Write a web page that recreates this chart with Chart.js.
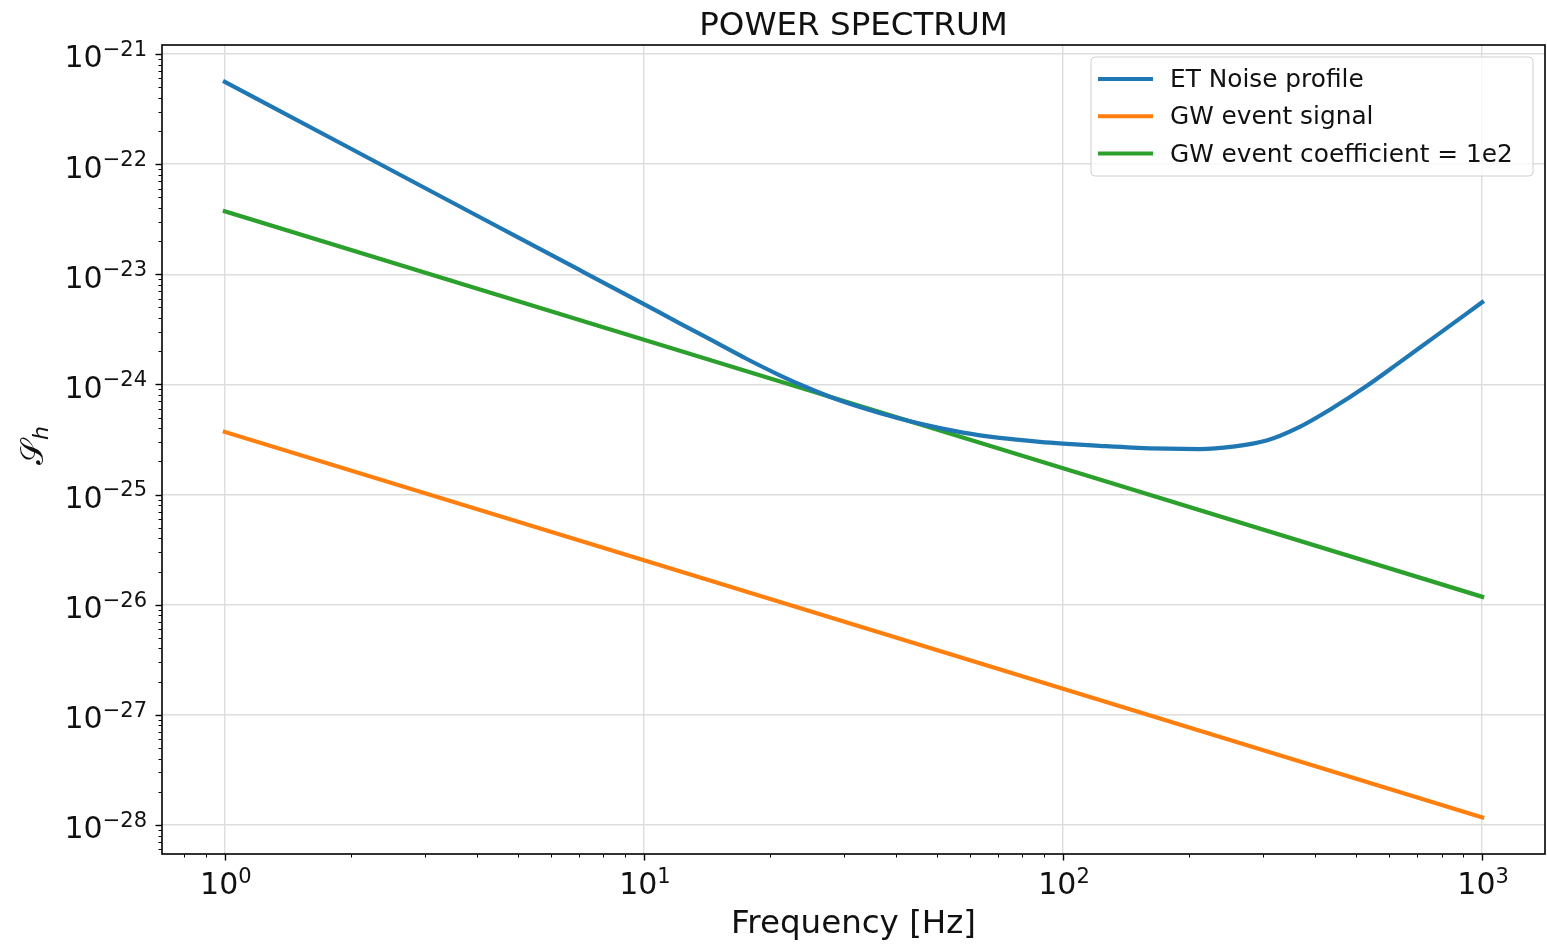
<!DOCTYPE html>
<html>
<head>
<meta charset="utf-8">
<title>Power Spectrum</title>
<script src="https://cdn.jsdelivr.net/npm/chart.js@4.4.1/dist/chart.umd.min.js"></script>
<style>
    html, body { margin: 0; padding: 0; background: #ffffff; }
    #wrap { width: 1547px; height: 947px; }
</style>
</head>
<body>
<div id="wrap"><canvas id="spectrumChart" width="1547" height="947"></canvas></div>
<script>
// values (frequency in Hz, S_h)
const noiseFreq = [1, 2, 4, 7, 10, 12.17, 14.62, 17.56, 21.09, 24.42, 27.75, 33.32, 40.03, 48.07, 57.7,
    70.6, 87.95, 100, 122.3, 146.6, 176.6, 211.8, 253.9, 306, 360.8, 439.7, 530, 635.3, 761.6, 918, 1000];
const noiseValues = [5.6e-22, 1.38e-22, 3.4e-23, 1.1e-23, 5.35e-24, 3.59e-24, 2.48e-24, 1.71e-24, 1.21e-24,
    9.42e-25, 7.74e-25, 6.11e-25, 4.99e-25, 4.2e-25, 3.65e-25,
    3.27e-25, 3.01e-25, 2.9e-25, 2.77e-25, 2.67e-25, 2.61e-25, 2.59e-25, 2.72e-25, 3.09e-25, 3.98e-25,
    6.1e-25, 9.66e-25, 1.585e-24, 2.62e-24, 4.39e-24, 5.57e-24];
const eventFreq = [1, 10, 100, 1000];
const signalValues = [3.70e-25, 2.53e-26, 1.72e-27, 1.17e-28];
const coeffValues = [3.73e-23, 2.54e-24, 1.73e-25, 1.18e-26];

const seriesLabels = ['ET Noise profile', 'GW event signal', 'GW event coefficient = 1e2'];
const seriesColors = ['#1f77b4', '#ff7f0e', '#2ca02c'];

// tick labels are powers of ten: 10^e
const xTickExponents = [0, 1, 2, 3];
const yTickExponents = [-28, -27, -26, -25, -24, -23, -22, -21];

const FONT = '"DejaVu Sans", "Noto Sans", sans-serif';
const MINUS = '\u2212';

function toPoints(xs, ys) {
    return xs.map((x, i) => ({ x: x, y: ys[i] }));
}

function isDecade(v) {
    const l = Math.log10(v);
    return Math.abs(l - Math.round(l)) < 1e-6;
}

// major + minor ticks (1..9 x 10^e) inside the axis range
function logTicks(scale) {
    const ticks = [];
    const lo = Math.floor(Math.log10(scale.min));
    const hi = Math.ceil(Math.log10(scale.max));
    for (let e = lo; e <= hi; e++) {
        for (let m = 1; m <= 9; m++) {
            const v = m * Math.pow(10, e);
            if (v >= scale.min * 0.9999 && v <= scale.max * 1.0001) {
                ticks.push({ value: v, major: m === 1 });
            }
        }
    }
    scale.ticks = ticks;
}

function drawPower(ctx, exp, anchorX, baseY, align) {
    const main = '10';
    const sup = exp < 0 ? MINUS + String(-exp) : String(exp);
    ctx.font = '30px ' + FONT;
    const mw = ctx.measureText(main).width;
    ctx.font = '21px ' + FONT;
    const sw = ctx.measureText(sup).width;
    const total = mw + sw;
    let left = anchorX - total / 2;
    if (align === 'right') left = anchorX - total;
    ctx.textAlign = 'left';
    ctx.textBaseline = 'alphabetic';
    ctx.font = '30px ' + FONT;
    ctx.fillText(main, left, baseY);
    ctx.font = '21px ' + FONT;
    ctx.fillText(sup, left + mw, baseY - 11.5);
}

const axesDecor = {
    id: 'axesDecor',
    afterDraw(chart) {
        const ctx = chart.ctx;
        const a = chart.chartArea;
        const xs = chart.scales.x;
        const ys = chart.scales.y;
        ctx.save();
        ctx.strokeStyle = '#000000';
        ctx.fillStyle = '#000000';

        // tick marks
        xs.ticks.forEach(t => {
            const px = Math.round(xs.getPixelForValue(t.value)) + 0.5;
            const major = isDecade(t.value);
            ctx.lineWidth = major ? 1.4 : 1.0;
            ctx.beginPath();
            ctx.moveTo(px, a.bottom);
            ctx.lineTo(px, a.bottom + (major ? 6.5 : 3.5));
            ctx.stroke();
        });
        ys.ticks.forEach(t => {
            const py = Math.round(ys.getPixelForValue(t.value)) + 0.5;
            const major = isDecade(t.value);
            ctx.lineWidth = major ? 1.4 : 1.0;
            ctx.beginPath();
            ctx.moveTo(a.left, py);
            ctx.lineTo(a.left - (major ? 6.5 : 3.5), py);
            ctx.stroke();
        });

        // frame
        ctx.lineWidth = 1.6;
        ctx.strokeRect(a.left, a.top, a.right - a.left, a.bottom - a.top);

        // tick labels
        ctx.fillStyle = '#111111';
        xTickExponents.forEach(e => {
            const px = xs.getPixelForValue(Math.pow(10, e));
            drawPower(ctx, e, px + 1, a.bottom + 40, 'center');
        });
        yTickExponents.forEach(e => {
            const py = ys.getPixelForValue(Math.pow(10, e));
            drawPower(ctx, e, a.left - 15, py + 13.4, 'right');
        });

        // title and axis labels
        const cx = (a.left + a.right) / 2;
        ctx.textAlign = 'center';
        ctx.textBaseline = 'alphabetic';
        ctx.font = '32.5px ' + FONT;
        ctx.fillText('POWER SPECTRUM', cx, 35);
        ctx.fillText('Frequency [Hz]', cx, 933);

        const cy = (a.top + a.bottom) / 2;
        ctx.save();
        ctx.translate(43, cy - 4);
        ctx.rotate(-Math.PI / 2);
        ctx.font = '32px ' + FONT;
        const sW = ctx.measureText('\u{1D4AE}').width;
        ctx.font = 'italic 22px ' + FONT;
        const hW = ctx.measureText('h').width;
        const start = -(sW + hW) / 2;
        ctx.textAlign = 'left';
        ctx.font = '32px ' + FONT;
        ctx.fillText('\u{1D4AE}', start, 0);
        ctx.font = 'italic 22px ' + FONT;
        ctx.fillText('h', start + sW, 5);
        ctx.restore();

        // legend box in the upper right of the axes
        const lx = a.right - 12 - 442;
        const ly = a.top + 12;
        const lw = 442, lh = 119, r = 4;
        ctx.beginPath();
        ctx.moveTo(lx + r, ly);
        ctx.arcTo(lx + lw, ly, lx + lw, ly + lh, r);
        ctx.arcTo(lx + lw, ly + lh, lx, ly + lh, r);
        ctx.arcTo(lx, ly + lh, lx, ly, r);
        ctx.arcTo(lx, ly, lx + lw, ly, r);
        ctx.closePath();
        ctx.fillStyle = 'rgba(255,255,255,0.8)';
        ctx.fill();
        ctx.lineWidth = 1;
        ctx.strokeStyle = '#d0d0d0';
        ctx.stroke();

        chart.data.datasets.forEach((ds, i) => {
            const rowY = ly + 22 + i * 37.3;
            ctx.strokeStyle = ds.borderColor;
            ctx.lineWidth = 4;
            ctx.lineCap = 'butt';
            ctx.beginPath();
            ctx.moveTo(lx + 7, rowY);
            ctx.lineTo(lx + 62, rowY);
            ctx.stroke();
            ctx.fillStyle = '#111111';
            ctx.font = '24.8px ' + FONT;
            ctx.textAlign = 'left';
            ctx.fillText(ds.label, lx + 79, rowY + 8);
        });
        ctx.restore();
    }
};

const gridColor = '#dddddd';
const gridOpts = {
    color: c => (c.tick && isDecade(c.tick.value)) ? gridColor : 'rgba(0,0,0,0)',
    lineWidth: 1.4,
    drawTicks: false
};

const ctx = document.getElementById('spectrumChart');
const spectrumChart = new Chart(ctx, {
    type: 'line',
    data: {
        datasets: [
            {
                label: seriesLabels[0],
                data: toPoints(noiseFreq, noiseValues),
                borderColor: seriesColors[0],
                cubicInterpolationMode: 'monotone'
            },
            {
                label: seriesLabels[1],
                data: toPoints(eventFreq, signalValues),
                borderColor: seriesColors[1]
            },
            {
                label: seriesLabels[2],
                data: toPoints(eventFreq, coeffValues),
                borderColor: seriesColors[2]
            }
        ]
    },
    options: {
        responsive: false,
        devicePixelRatio: 1,
        animation: false,
        layout: { padding: { top: 45, right: 2, bottom: 0, left: 0 } },
        elements: {
            point: { radius: 0, hoverRadius: 0 },
            line: { borderWidth: 4.2, fill: false, tension: 0, borderCapStyle: 'square' }
        },
        plugins: {
            legend: { display: false },
            title: { display: false },
            tooltip: { enabled: false }
        },
        scales: {
            x: {
                type: 'logarithmic',
                position: 'bottom',
                min: Math.pow(10, -0.15),
                max: Math.pow(10, 3.15),
                bounds: 'data',
                afterBuildTicks: logTicks,
                afterFit: s => { s.height = 93; },
                ticks: { display: false },
                grid: gridOpts,
                border: { display: false }
            },
            y: {
                type: 'logarithmic',
                position: 'left',
                min: Math.pow(10, -28.264),
                max: Math.pow(10, -20.918),
                bounds: 'data',
                afterBuildTicks: logTicks,
                afterFit: s => { s.width = 162; },
                ticks: { display: false },
                grid: gridOpts,
                border: { display: false }
            }
        }
    },
    plugins: [axesDecor]
});
</script>
</body>
</html>
